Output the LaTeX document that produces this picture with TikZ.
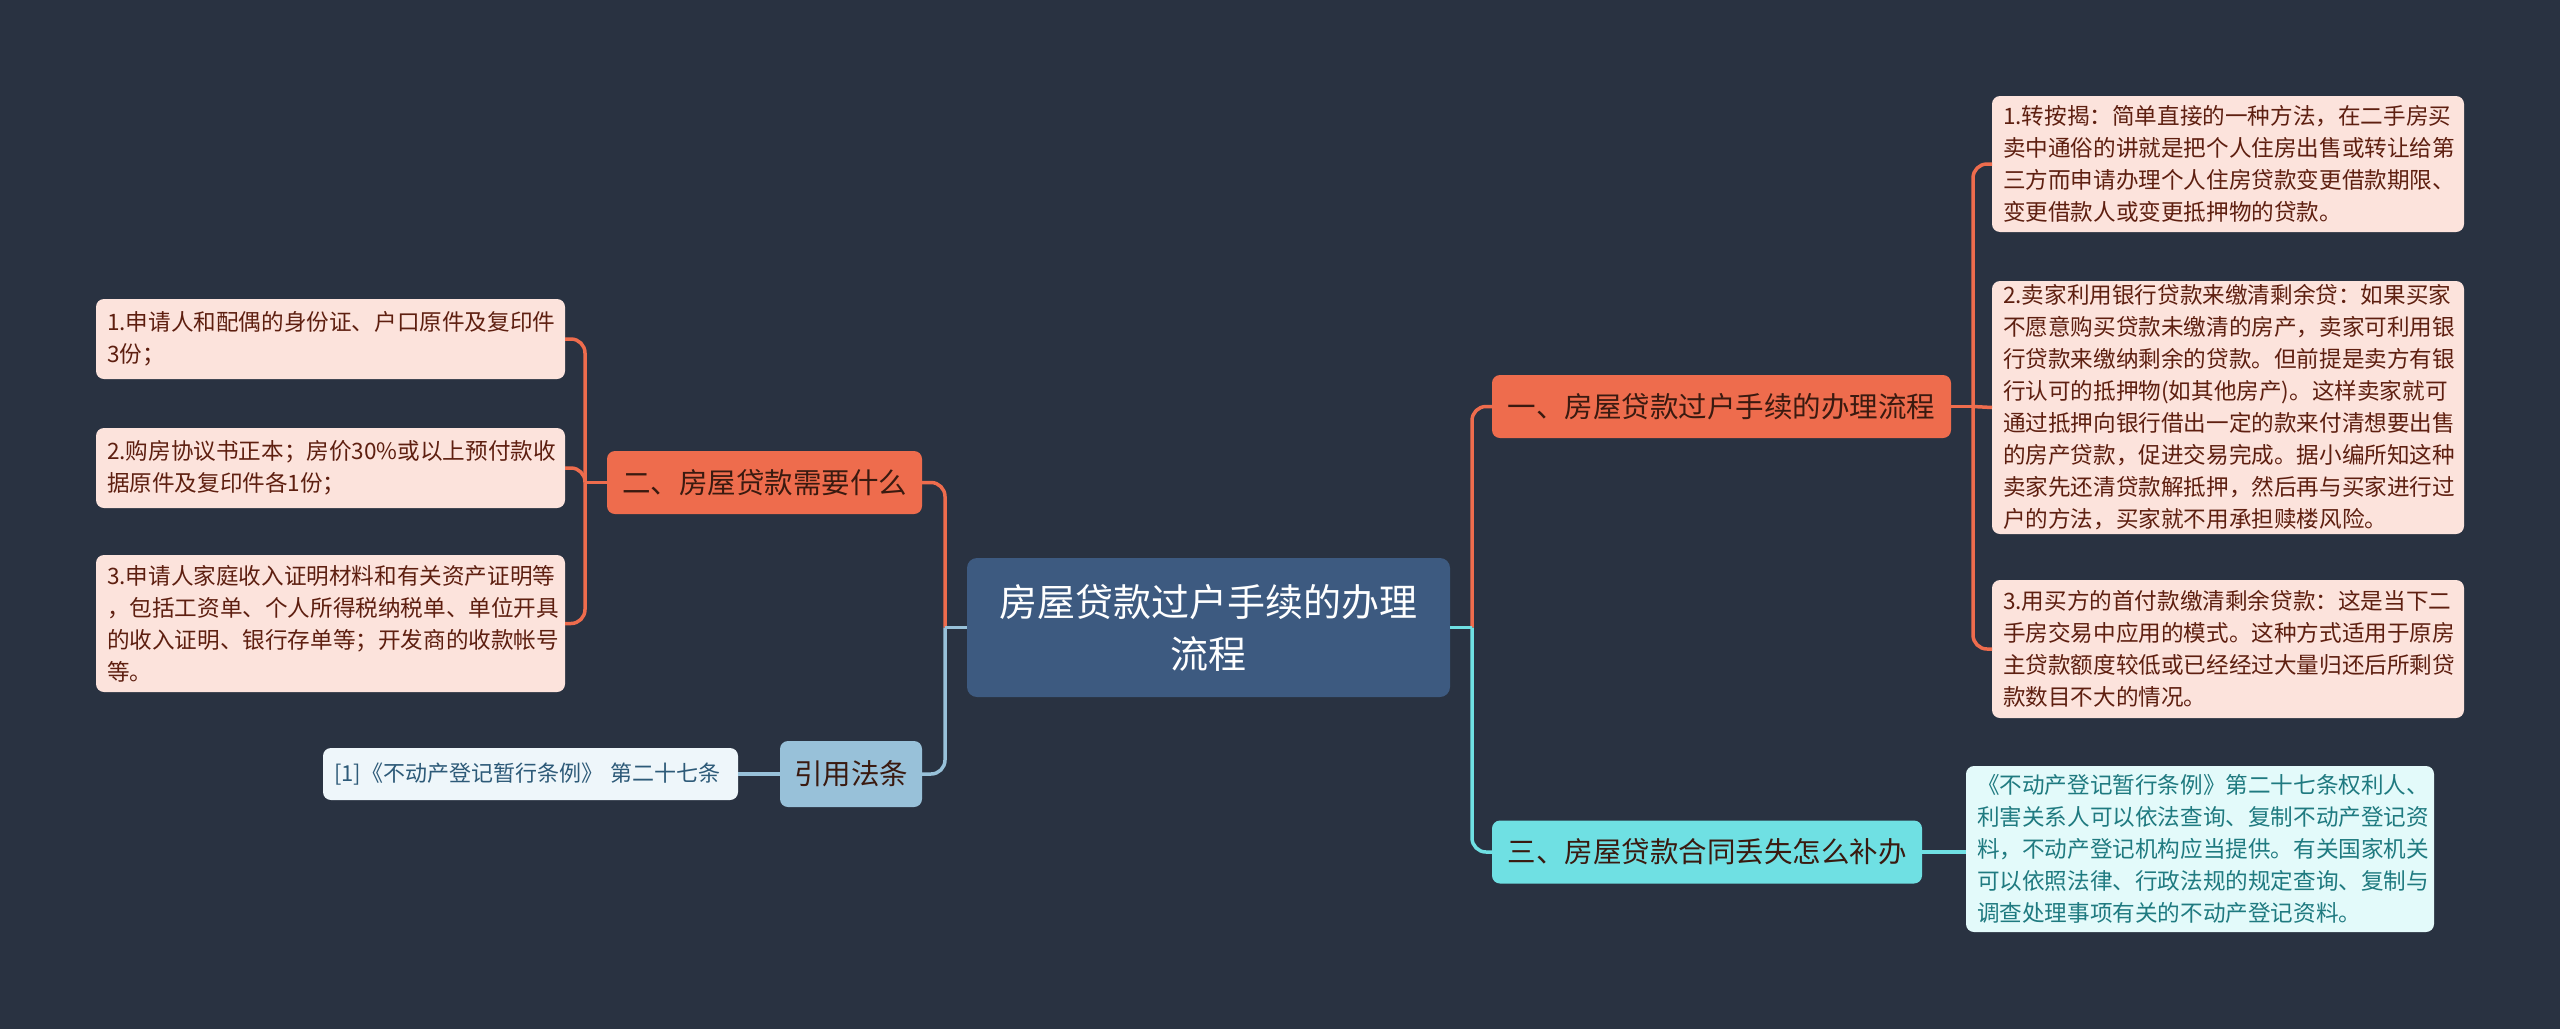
\documentclass[tikz,border=0pt]{standalone}
\usepackage{fontspec}
\setmainfont{Noto Sans CJK SC}
\usepackage{tikz}
\usetikzlibrary{positioning}
\definecolor{bgdark}{HTML}{293241}
\definecolor{rootblue}{HTML}{3D5A80}
\definecolor{coral}{HTML}{EE6C4D}
\definecolor{aqua}{HTML}{6FE0E3}
\definecolor{skyblue}{HTML}{98C1D9}
\definecolor{pinkleaf}{HTML}{FCE3DC}
\definecolor{pinktext}{HTML}{5E1F10}
\definecolor{aqualeaf}{HTML}{E3FAFA}
\definecolor{aquatext}{HTML}{1F7A80}
\definecolor{skyleaf}{HTML}{EEF6FA}
\definecolor{skytext}{HTML}{2D5A78}
\definecolor{branchtext}{HTML}{3A1A10}

\begin{document}
\begin{tikzpicture}[x=1pt,y=-1pt,
  every node/.style={rounded corners=8pt,inner ysep=0pt,outer sep=0pt},
  rootbox/.style={fill=rootblue,text=white,align=center,font=\fontsize{38}{52}\selectfont,
    minimum width=483pt,minimum height=139pt,rounded corners=10pt},
  branchbox/.style={font=\fontsize{28.5}{34}\selectfont,minimum height=63pt,inner xsep=10pt},
  leafbox/.style={fill=pinkleaf,text=pinktext,align=left,font=\fontsize{22.6}{32}\selectfont,inner xsep=11pt},
  coralline/.style={draw=coral,line width=3.5pt},
  aqualine/.style={draw=aqua,line width=3.5pt},
  skyline/.style={draw=skyblue,line width=3.5pt}]

\fill[bgdark] (0,0) rectangle (2560,1029);
\useasboundingbox (0,0) rectangle (2560,1029);

% root and main branches
\node[rootbox] (root) at (1208.5,627.5) {房屋贷款过户手续的办理\\流程};
\node[branchbox,fill=coral,text=branchtext,minimum width=459pt] (flow) at (1721.5,406.5) {一、房屋贷款过户手续的办理流程};
\node[branchbox,fill=aqua,text=branchtext,minimum width=430pt] (lost) at (1707,852) {三、房屋贷款合同丢失怎么补办};
\node[branchbox,fill=coral,text=branchtext,minimum width=315pt] (need) at (764.5,482.5) {二、房屋贷款需要什么};
\node[branchbox,fill=skyblue,text=branchtext,minimum width=142pt,minimum height=66pt] (law) at (851,774) {引用法条};

% leaves right
\node[leafbox,text width=450pt,minimum height=136pt] (flowa) at (2228,164) {1.转按揭：简单直接的一种方法，在二手房买\\卖中通俗的讲就是把个人住房出售或转让给第\\三方而申请办理个人住房贷款变更借款期限、\\变更借款人或变更抵押物的贷款。};
\node[leafbox,text width=450pt,minimum height=253pt] (flowb) at (2228,407.5) {2.卖家利用银行贷款来缴清剩余贷：如果买家\\不愿意购买贷款未缴清的房产，卖家可利用银\\行贷款来缴纳剩余的贷款。但前提是卖方有银\\行认可的抵押物(如其他房产)。这样卖家就可\\通过抵押向银行借出一定的款来付清想要出售\\的房产贷款，促进交易完成。据小编所知这种\\卖家先还清贷款解抵押，然后再与买家进行过\\户的方法，买家就不用承担赎楼风险。};
\node[leafbox,text width=450pt,minimum height=138pt] (flowc) at (2228,649) {3.用买方的首付款缴清剩余贷款：这是当下二\\手房交易中应用的模式。这种方式适用于原房\\主贷款额度较低或已经经过大量归还后所剩贷\\款数目不大的情况。};
\node[leafbox,fill=aqualeaf,text=aquatext,text width=446pt,minimum height=166pt] (losta) at (2200,849) {《不动产登记暂行条例》第二十七条权利人、\\利害关系人可以依法查询、复制不动产登记资\\料，不动产登记机构应当提供。有关国家机关\\可以依照法律、行政法规的规定查询、复制与\\调查处理事项有关的不动产登记资料。};

% leaves left
\node[leafbox,text width=447pt,minimum height=80pt] (needa) at (330.5,339) {1.申请人和配偶的身份证、户口原件及复印件\\3份；};
\node[leafbox,text width=447pt,minimum height=80pt] (needb) at (330.5,468) {2.购房协议书正本；房价30\%或以上预付款收\\据原件及复印件各1份；};
\node[leafbox,text width=447pt,minimum height=137pt] (needc) at (330.5,623.5) {3.申请人家庭收入证明材料和有关资产证明等\\，包括工资单、个人所得税纳税单、单位开具\\的收入证明、银行存单等；开发商的收款帐号\\等。};
\node[leafbox,fill=skyleaf,text=skytext,text width=393pt,minimum height=52pt,font=\fontsize{22}{32}\selectfont] (lawa) at (530.5,774) {[1]《不动产登记暂行条例》~第二十七条};

% connectors
\coordinate (jr) at (1472,627.5);
\coordinate (jl) at (945,627.5);
\coordinate (jflow) at (1973,406.5);
\coordinate (jneed) at (585,482.5);

\draw[coralline,rounded corners=14pt] (jr) |- (flow.west);
\draw[aqualine,rounded corners=14pt] (jr) |- (lost.west);
\draw[aqualine] (root.east) -- (jr);
\draw[coralline,rounded corners=14pt] (jl) |- (need.east);
\draw[skyline,rounded corners=14pt] (jl) |- (law.east);
\draw[skyline] (root.west) -- (jl);

\draw[coralline] (flow.east) -- (jflow);
\draw[coralline,rounded corners=14pt] (jflow) |- (flowa.west);
\draw[coralline] (jflow) -- (flowb.west);
\draw[coralline,rounded corners=14pt] (jflow) |- (flowc.west);
\draw[aqualine] (lost.east) -- (lost.east -| losta.west);

\draw[coralline] (need.west) -- (jneed);
\draw[coralline,rounded corners=14pt] (jneed) |- (needa.east);
\draw[coralline,rounded corners=14pt] (jneed) |- (needb.east);
\draw[coralline,rounded corners=14pt] (jneed) |- (needc.east);
\draw[skyline] (law.west) -- (lawa.east);

\end{tikzpicture}
\end{document}
